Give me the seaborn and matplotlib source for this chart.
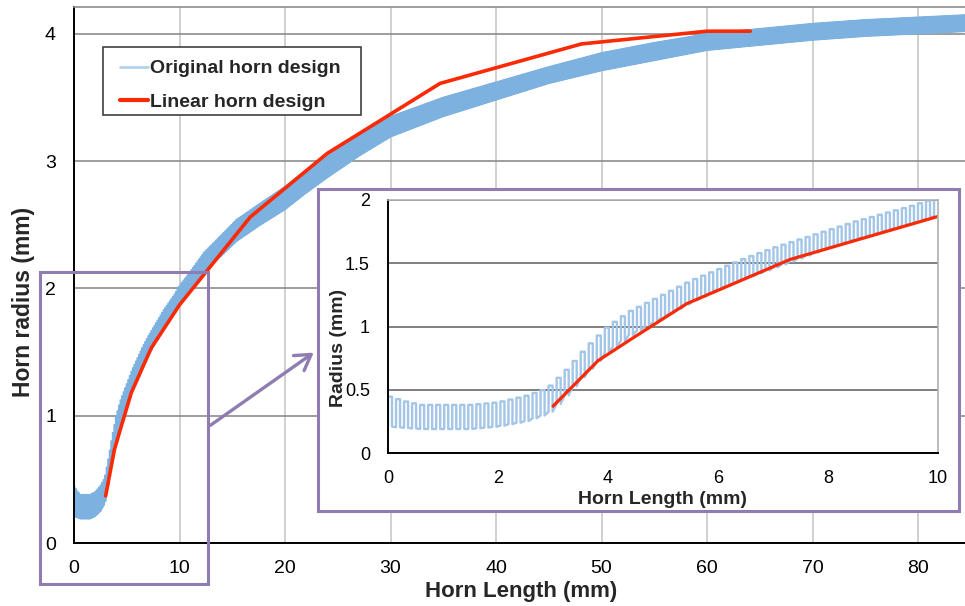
import numpy as np
import pandas as pd
import matplotlib
matplotlib.use("Agg")
import matplotlib.pyplot as plt
import seaborn as sns
from matplotlib.patches import Rectangle, FancyArrowPatch
from matplotlib.lines import Line2D

# ---------------- data ----------------
# Original (corrugated) horn: outer (tooth top) and inner (tooth bottom) radius envelopes
env_x = [0, 0.3, 0.6, 1.0, 1.5, 2.0, 2.5, 2.9, 3.0, 3.3, 3.6, 4.0, 4.4, 5.0, 5.5, 6.0,
         6.5, 7.0, 7.5, 8.0, 8.5, 9.0, 9.5, 10.0, 11.0, 12.3, 13.5, 15.4, 17.5, 20, 22,
         24, 27, 30, 35, 40, 45, 50, 55, 60, 65, 70, 75, 80, 85]
env_top = [0.45, 0.41, 0.38, 0.38, 0.38, 0.40, 0.45, 0.51, 0.55, 0.68, 0.83, 1.00, 1.12,
           1.25, 1.36, 1.45, 1.54, 1.62, 1.69, 1.76, 1.83, 1.89, 1.95, 2.02, 2.13, 2.28,
           2.38, 2.54, 2.66, 2.80, 2.93, 3.04, 3.21, 3.35, 3.50, 3.62, 3.74, 3.85, 3.93,
           4.00, 4.04, 4.08, 4.11, 4.13, 4.15]
env_bot = [0.21, 0.20, 0.19, 0.19, 0.19, 0.21, 0.25, 0.31, 0.34, 0.48, 0.63, 0.80, 0.93,
           1.07, 1.19, 1.29, 1.38, 1.46, 1.54, 1.62, 1.69, 1.75, 1.81, 1.88, 1.98, 2.12,
           2.22, 2.37, 2.49, 2.62, 2.75, 2.87, 3.04, 3.19, 3.35, 3.48, 3.61, 3.71, 3.79,
           3.87, 3.91, 3.95, 3.98, 4.00, 4.02]
corrugation_pitch = 0.146  # mm

# Linear horn design
lin_x = [3.0, 3.82, 4.42, 5.43, 7.31, 10.0, 16.7, 24.0, 34.7, 48.1, 60.0, 64.1]
lin_y = [0.37, 0.73, 0.90, 1.18, 1.53, 1.87, 2.56, 3.06, 3.61, 3.92, 4.02, 4.02]

main_xticks = [0, 10, 20, 30, 40, 50, 60, 70, 80]
main_yticks = [0, 1, 2, 3, 4]
inset_xticks = [0, 2, 4, 6, 8, 10]
inset_yticks = [0, 0.5, 1, 1.5, 2]
inset_ylabels = ["0", "0.5", "1", "1.5", "2"]

series_names = ["Original horn design", "Linear horn design"]

# ---------------- build corrugated profile ----------------
xs, rs = [], []
for s in np.arange(0, 85, corrugation_pitch):
    m = s + corrugation_pitch / 4
    t = np.interp(m, env_x, env_top)
    b = np.interp(m, env_x, env_bot)
    xs += [s, s, s + corrugation_pitch / 2, s + corrugation_pitch / 2]
    rs += [b, t, t, b]
df_orig = pd.DataFrame({"x": xs, "r": rs})
df_lin = pd.DataFrame({"x": lin_x, "r": lin_y})

# ---------------- style ----------------
sns.set_theme(style="white")
plt.rcParams["font.family"] = ["Liberation Sans", "DejaVu Sans"]

W, H = 965, 606
fig = plt.figure(figsize=(W / 100, H / 100), dpi=100)
fig.patch.set_facecolor("white")

def fx(px):
    return px / W

def fy(py):
    return (H - py) / H

RED = "#fa2a05"
PURPLE = "#8f7cb0"

# main axes pixel frame
L, R, T, B = 74, 965, 7, 543
AW, AH = R - L, B - T

def axx(px):
    return (px - L) / AW

def axy(py):
    return (B - py) / AH

# ---------------- main axes ----------------
ax = fig.add_axes([fx(L), fy(B), fx(R) - fx(L), fy(T) - fy(B)])
ax.set_zorder(0)
sns.lineplot(data=df_orig, x="x", y="r", estimator=None, sort=False,
             color="#7db1df", lw=1.0, ax=ax, legend=False)
sns.lineplot(data=df_lin, x="x", y="r", estimator=None, sort=False,
             color=RED, lw=2.6, ax=ax, legend=False)
ax.set_xlim(0, 84.45)
ax.set_ylim(0, 4.21)
ax.set_xticks(main_xticks)
ax.set_yticks(main_yticks)
ax.set_axisbelow(True)
ax.grid(axis="x", color="#c8c8c8", lw=1.2)
ax.grid(axis="y", color="#8c8c8c", lw=1.2)
for side in ["left", "bottom"]:
    ax.spines[side].set_color("black")
    ax.spines[side].set_linewidth(1.4)
ax.spines["top"].set_color("#8c8c8c")
ax.spines["top"].set_linewidth(1.2)
ax.spines["right"].set_visible(False)
ax.tick_params(axis="both", direction="out", length=5, width=1.2, color="#888888",
               labelsize=14, labelcolor="black")
ax.tick_params(axis="x", pad=7)
ax.tick_params(axis="y", pad=8)
ax.set_xlabel("Horn Length (mm)", fontsize=16, fontweight="bold")
ax.set_ylabel("Horn radius (mm)", fontsize=16.5, fontweight="bold")
ax.xaxis.set_label_coords(axx(521), axy(581))
ax.yaxis.set_label_coords(axx(35), axy(302))

# legend (frame drawn separately to match the wide side padding)
handles = [Line2D([0], [0], color="#b5d2ee", lw=2),
           Line2D([0], [0], color=RED, lw=3)]
leg = ax.legend(handles, series_names, loc="upper left",
                bbox_to_anchor=(axx(111), axy(51)),
                borderaxespad=0, frameon=False, prop={"weight": "bold", "size": 14},
                handlelength=1.45, handletextpad=0.12, labelspacing=0.8,
                borderpad=0.45)
leg_frame = Rectangle((axx(103), axy(115)), axx(361) - axx(103), axy(47) - axy(115),
                      transform=ax.transAxes, facecolor="white", edgecolor="#404040",
                      lw=1.2, zorder=4)
ax.add_patch(leg_frame)
leg.set_zorder(5)

# ---------------- highlight boxes and arrow ----------------
small_box = Rectangle((fx(40), fy(584)), fx(208) - fx(40), fy(272) - fy(584),
                      transform=fig.transFigure, fill=False, edgecolor=PURPLE,
                      lw=2.2, zorder=1)
fig.add_artist(small_box)
arrow = FancyArrowPatch((fx(208), fy(427)), (fx(316), fy(351)),
                        transform=fig.transFigure,
                        arrowstyle="->,head_length=0.9,head_width=0.55",
                        mutation_scale=12, color=PURPLE, lw=2.4, zorder=1)
fig.add_artist(arrow)
big_box = Rectangle((fx(318), fy(511)), fx(959) - fx(318), fy(189) - fy(511),
                    transform=fig.transFigure, facecolor="white", edgecolor=PURPLE,
                    lw=2.2, zorder=1.5)
fig.add_artist(big_box)

# ---------------- inset axes ----------------
ax2 = fig.add_axes([fx(388), fy(453), fx(938) - fx(388), fy(200) - fy(453)])
ax2.set_zorder(2)
ax2.set_facecolor("white")
sns.lineplot(data=df_orig, x="x", y="r", estimator=None, sort=False,
             color="#a2c5e8", lw=1.7, ax=ax2, legend=False)
sns.lineplot(data=df_lin, x="x", y="r", estimator=None, sort=False,
             color=RED, lw=2.3, ax=ax2, legend=False)
ax2.set_xlim(0, 10)
ax2.set_ylim(0, 2)
ax2.set_xticks(inset_xticks)
ax2.set_yticks(inset_yticks)
ax2.set_yticklabels(inset_ylabels)
ax2.set_axisbelow(True)
ax2.grid(axis="y", color="#7f7f7f", lw=1.4)
ax2.grid(axis="x", visible=False)
for side in ["left", "bottom"]:
    ax2.spines[side].set_color("black")
    ax2.spines[side].set_linewidth(1.4)
for side in ["top", "right"]:
    ax2.spines[side].set_color("#b0b0b0")
    ax2.spines[side].set_linewidth(1.2)
ax2.tick_params(axis="both", direction="out", length=5, width=1.2, color="#888888",
                labelsize=13, labelcolor="black")
ax2.tick_params(axis="x", pad=7)
ax2.tick_params(axis="y", pad=8)
ax2.set_xlabel("Horn Length (mm)", fontsize=14, fontweight="bold")
ax2.set_ylabel("Radius (mm)", fontsize=14, fontweight="bold")
ax2.xaxis.set_label_coords(0.5, (453 - 491) / 253)
ax2.yaxis.set_label_coords((347 - 388) / 550, (453 - 348) / 253)

fig.savefig("out.png", dpi=100, facecolor="white")
